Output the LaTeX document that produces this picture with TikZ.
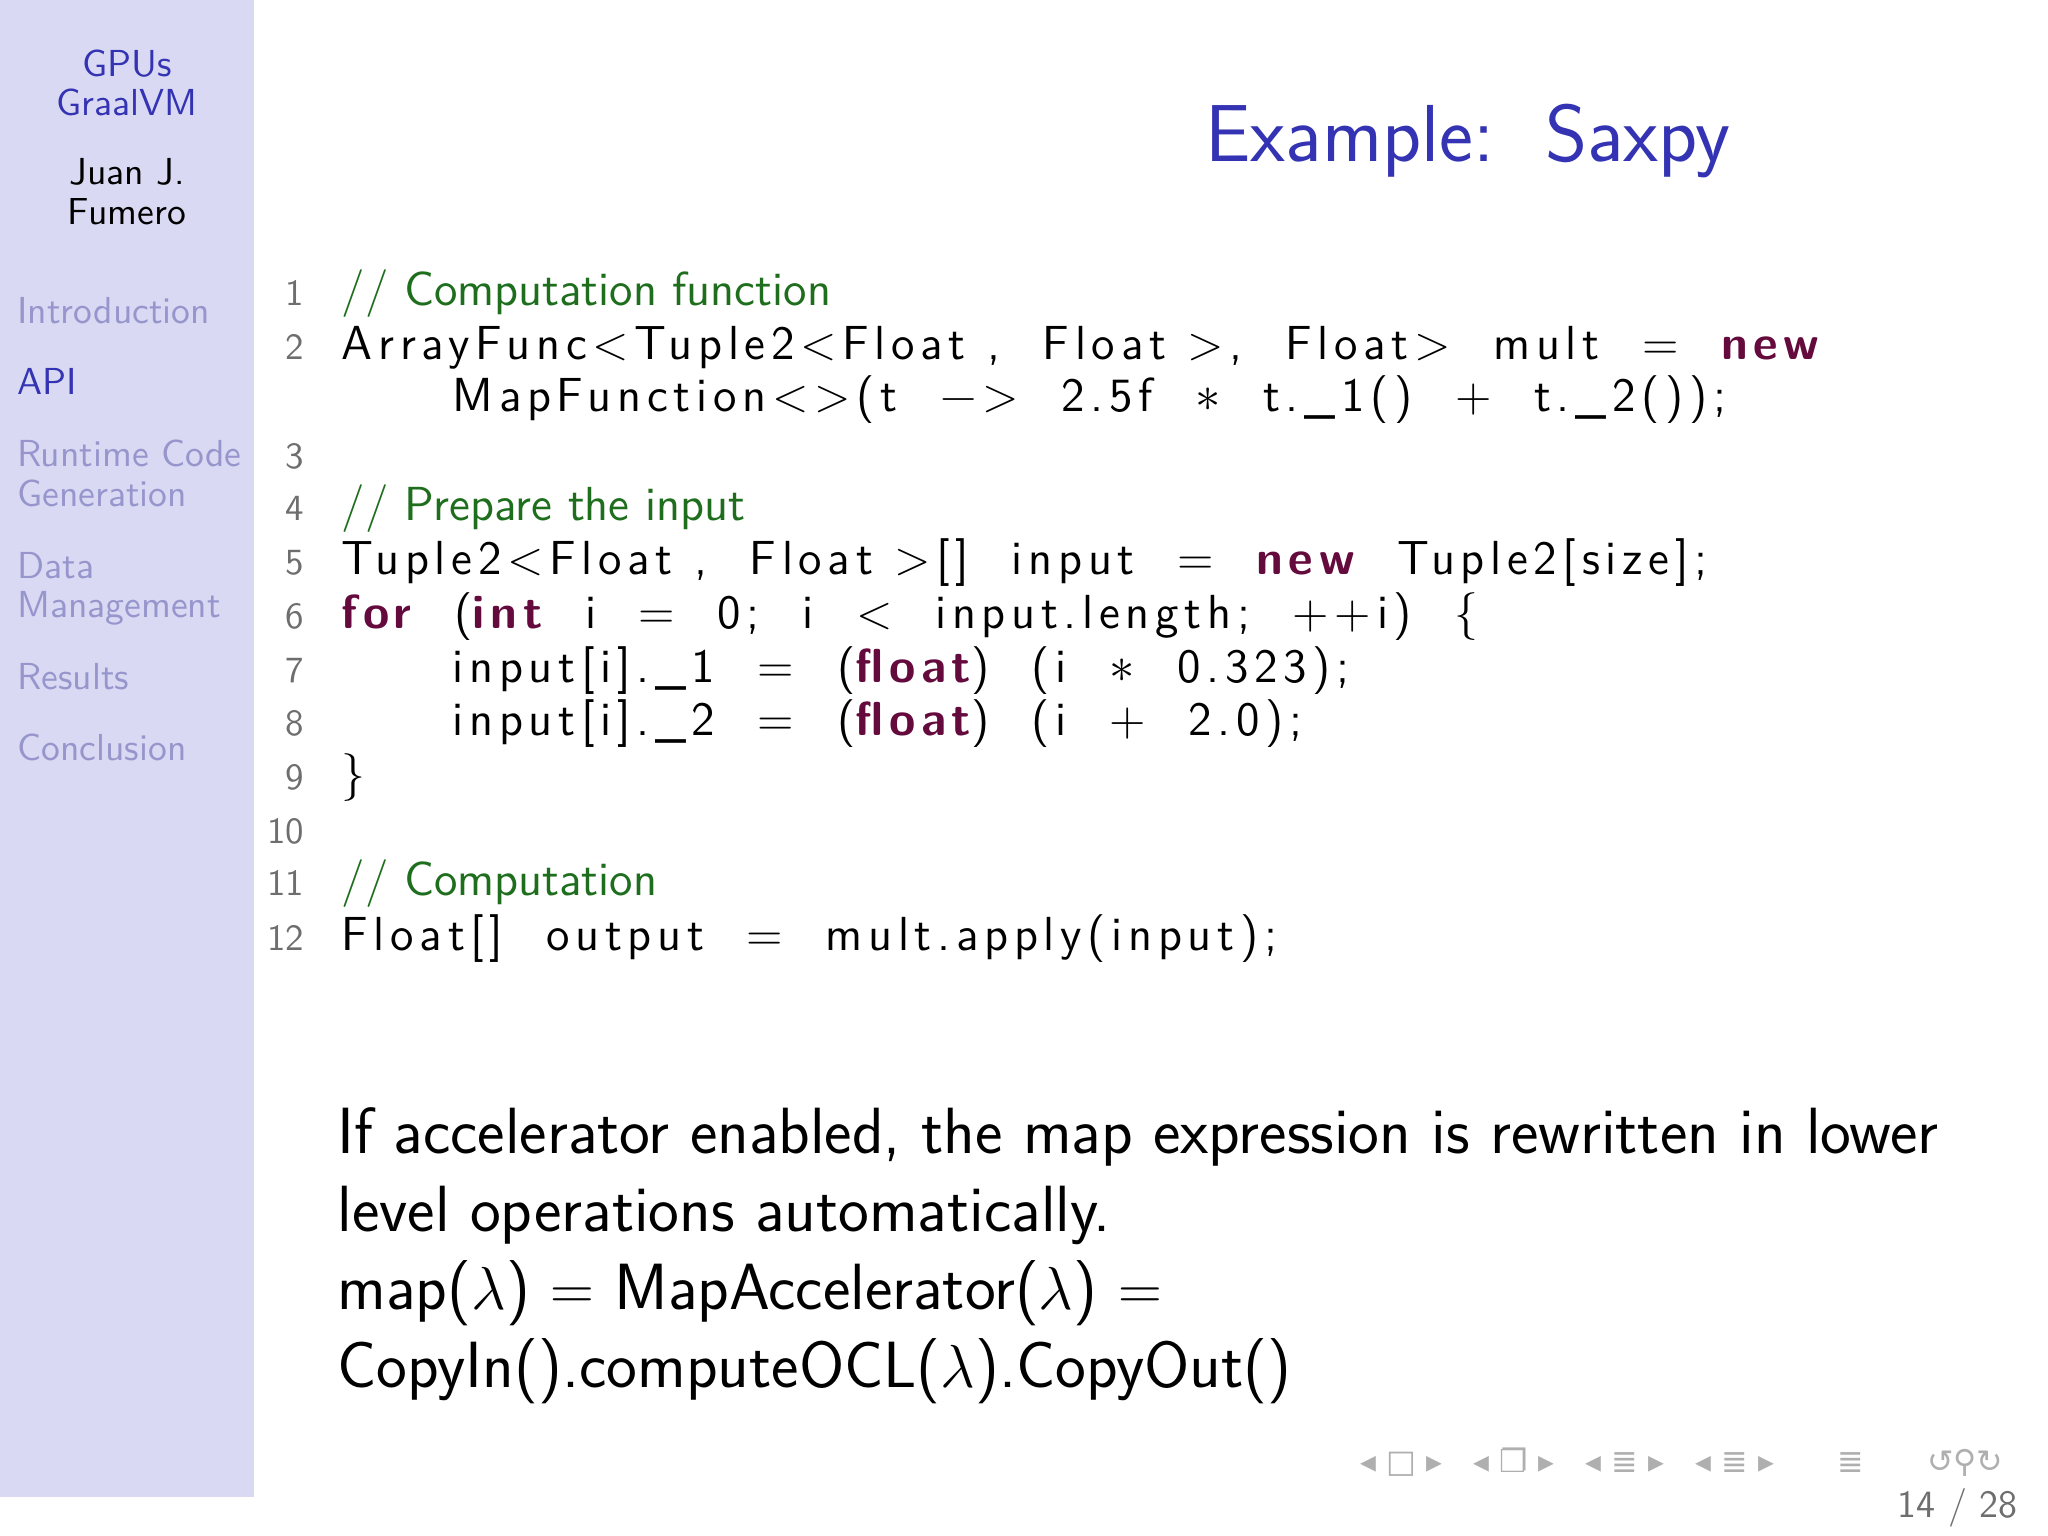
\documentclass[tikz,border=0pt]{standalone}
\usepackage{fontspec}
\newfontfamily\codefont[LetterSpace=12]{Latin Modern Sans}
\newfontfamily\symfont{DejaVu Sans}
\definecolor{side}{RGB}{217,217,243}
\definecolor{navc}{RGB}{150,150,205}
\definecolor{bblue}{RGB}{51,51,179}
\definecolor{cgreen}{RGB}{30,110,30}
\definecolor{kw}{RGB}{100,10,60}
\definecolor{lnum}{RGB}{110,110,110}
\begin{document}
\begin{tikzpicture}[x=1cm,y=1cm,
  sb/.style={anchor=base,font=\sffamily\fontsize{10.7}{13}\selectfont},
  nav/.style={anchor=base west,text=navc,font=\sffamily\fontsize{10.7}{13}\selectfont},
  ln/.style={anchor=base east,text=lnum,font=\sffamily\fontsize{10.5}{13}\selectfont,inner sep=0},
  code/.style={anchor=base west,inner sep=0,font=\codefont\fontsize{13.6}{16}\selectfont},
  cmt/.style={anchor=base west,inner sep=0,text=cgreen,font=\sffamily\fontsize{13.6}{16}\selectfont},
  body/.style={anchor=base west,inner sep=0,font=\sffamily\fontsize{18.6}{22}\selectfont}]
\useasboundingbox (0,0) rectangle (20.48,15.36);
\fill[white] (0,0) rectangle (20.48,15.36);
\fill[side] (0,0.39) rectangle (2.54,15.36);
\node[sb,text=bblue] (g1) at (1.27,14.59) {GPUs};
\node[sb,text=bblue] (g2) at (1.27,14.20) {GraalVM};
\node[sb] (a1) at (1.27,13.51) {Juan J.};
\node[sb] (a2) at (1.27,13.11) {Fumero};
\node[nav] (n1) at (0.05,12.12) {Introduction};
\node[nav,text=bblue] (n2) at (0.05,11.41) {API};
\node[nav] (n3) at (0.05,10.69) {Runtime Code};
\node[nav] (n4) at (0.05,10.29) {Generation};
\node[nav] (n5) at (0.05,9.57) {Data};
\node[nav] (n6) at (0.05,9.18) {Management};
\node[nav] (n7) at (0.05,8.46) {Results};
\node[nav] (n8) at (0.05,7.75) {Conclusion};
\node[anchor=base,text=bblue,font=\sffamily\fontsize{23}{28}\selectfont] (t) at (14.68,13.74) {Example:\ \ Saxpy};
% code
\def\X{3.41}\def\Y{4.52}
\node[ln] (l1) at (3.05,12.30) {1};
\node[cmt] (c1) at (\X,12.30) {//\ Computation function};
\node[ln] (l2) at (3.05,11.76) {2};
\node[code] (c2) at (\X,11.76) {ArrayFunc<Tuple2<Float ,\ \ Float >,\ \ Float>\ \ mult\ \ =\ \ \textcolor{kw}{\bfseries new}};
\node[code] (c2b) at (\Y,11.24) {MapFunction<>(t\ \ −>\ \ 2.5f\ \ $\ast$\ \ t.\_1()\ \ +\ \ t.\_2());};
\node[ln] (l3) at (3.05,10.67) {3};
\node[ln] (l4) at (3.05,10.15) {4};
\node[cmt] (c4) at (\X,10.15) {//\ Prepare the input};
\node[ln] (l5) at (3.05,9.61) {5};
\node[code] (c5) at (\X,9.61) {Tuple2<Float ,\ \ Float >[]\ \ input\ \ =\ \ \textcolor{kw}{\bfseries new}\ \ Tuple2[size];};
\node[ln] (l6) at (3.05,9.07) {6};
\node[code] (c6) at (\X,9.07) {\textcolor{kw}{\bfseries for}\ \ (\textcolor{kw}{\bfseries int}\ \ i\ \ =\ \ 0;\ \ i\ \ <\ \ input.length;\ \ ++i)\ \ \{};
\node[ln] (l7) at (3.05,8.53) {7};
\node[code] (c7) at (\Y,8.53) {input[i].\_1\ \ =\ \ (\textcolor{kw}{\bfseries float})\ \ (i\ \ $\ast$\ \ 0.323);};
\node[ln] (l8) at (3.05,8.00) {8};
\node[code] (c8) at (\Y,8.00) {input[i].\_2\ \ =\ \ (\textcolor{kw}{\bfseries float})\ \ (i\ \ +\ \ 2.0);};
\node[ln] (l9) at (3.05,7.46) {9};
\node[code] (c9) at (\X,7.46) {\}};
\node[ln] (l10) at (3.05,6.92) {10};
\node[ln] (l11) at (3.05,6.40) {11};
\node[cmt] (c11) at (\X,6.40) {//\ Computation};
\node[ln] (l12) at (3.05,5.85) {12};
\node[code] (c12) at (\X,5.85) {Float[]\ \ output\ \ =\ \ mult.apply(input);};
% body
\node[body] (b1) at (3.37,3.82) {If accelerator enabled, the map expression is rewritten in lower};
\node[body] (b2) at (3.37,3.04) {level operations automatically.};
\node[body] (b3) at (3.37,2.26) {map($\lambda$) $=$ MapAccelerator($\lambda$) $=$};
\node[body] (b4) at (3.37,1.48) {CopyIn().computeOCL($\lambda$).CopyOut()};
% nav symbols
\node[anchor=base,text=lnum!55,font=\symfont\fontsize{9}{11}\selectfont] (ns) at (16.82,0.63) {◂ □ ▸\quad ◂ ❐ ▸\quad ◂ ≣ ▸\quad ◂ ≣ ▸\qquad ≣\qquad ↺⚲↻};
\node[anchor=base east,text=lnum,font=\sffamily\fontsize{11}{13}\selectfont] (pg) at (20.30,0.18) {14 / 28};
\end{tikzpicture}
\end{document}
